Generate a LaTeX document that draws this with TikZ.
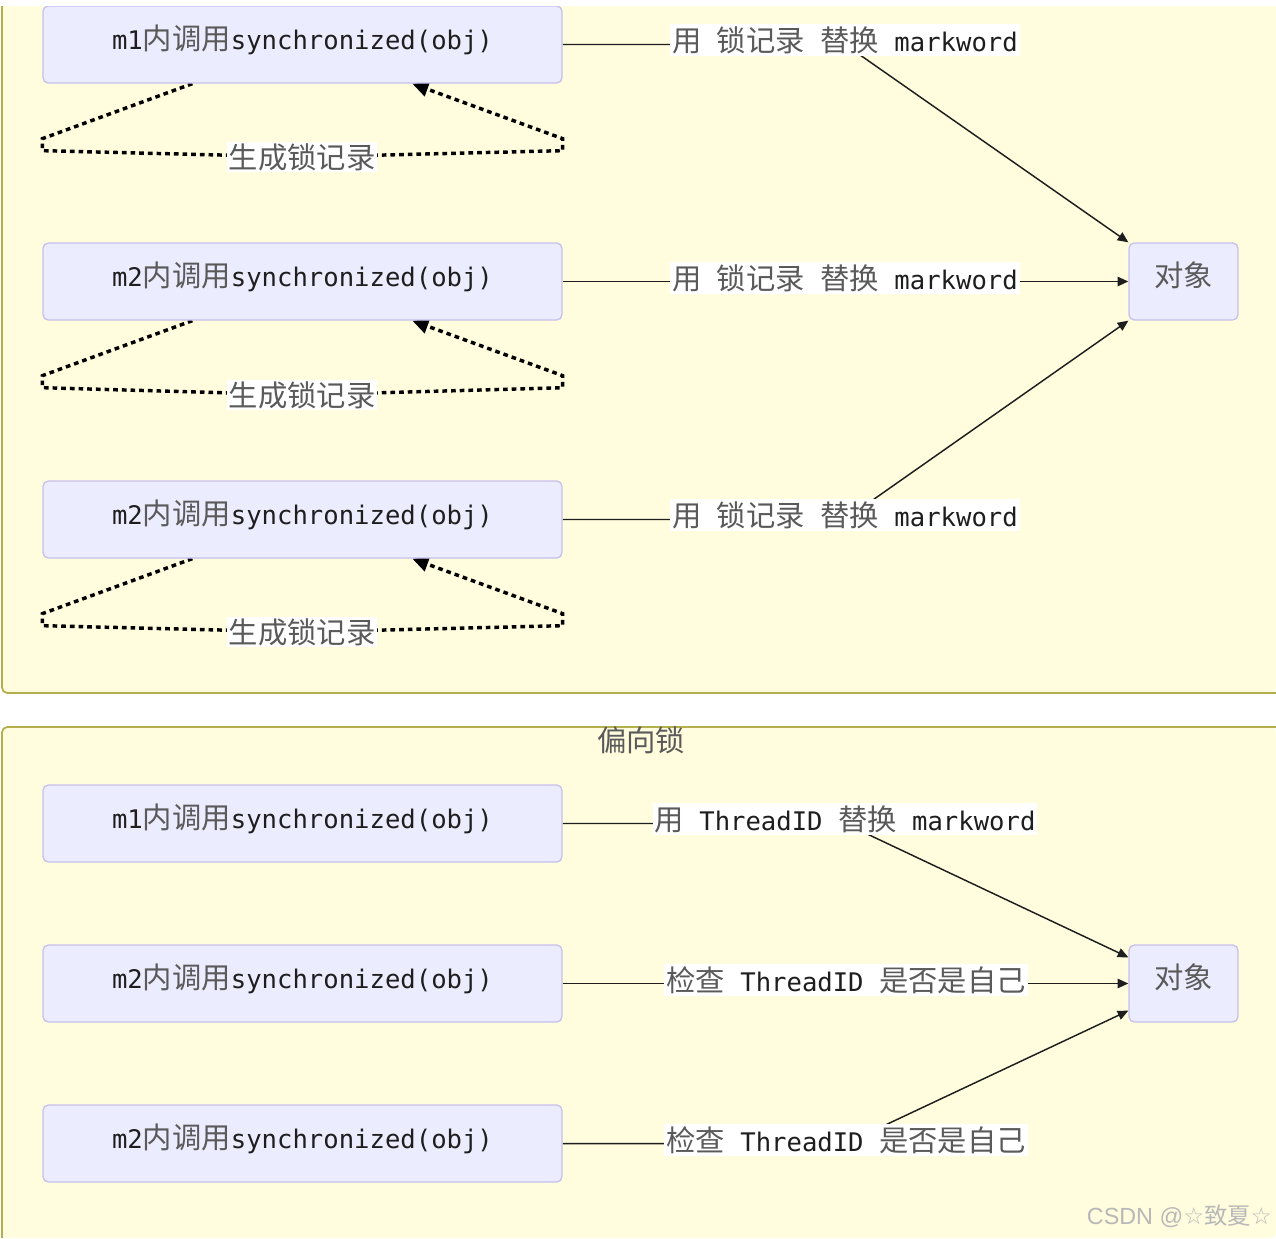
\documentclass[tikz,border=0pt]{standalone}
\usepackage{fontspec}
\newfontfamily\cjkf{Noto Sans CJK SC}
\newfontfamily\monof{DejaVu Sans Mono}
\newfontfamily\dejaf{DejaVu Sans}
\newfontfamily\arialf{Liberation Sans}
\usetikzlibrary{arrows.meta,calc}
\definecolor{clfill}{HTML}{FFFDDE}
\definecolor{clline}{HTML}{B4AE4C}
\definecolor{bxfill}{HTML}{ECECFF}
\definecolor{bxline}{HTML}{C6C0EC}
\definecolor{ink}{HTML}{1E1E1E}
\definecolor{zhink}{HTML}{5A5A5A}
\newcommand\zh[1]{{\cjkf\fontsize{22pt}{26pt}\selectfont\color{zhink}#1}}
\pgfdeclarelayer{bg}\pgfdeclarelayer{edges}\pgfdeclarelayer{cover}
\pgfsetlayers{bg,edges,main,cover}
\begin{document}
\begin{tikzpicture}[x=0.75pt,y=-0.75pt,
  every node/.style={font=\monof\fontsize{19.2pt}{22pt}\selectfont, text=ink},
  box/.style={draw=bxline, fill=bxfill, line width=1pt, rounded corners=4pt,
    minimum width=389.25pt, minimum height=57.75pt, inner sep=0pt,
    text height=17pt, text depth=9pt},
  objbox/.style={box, minimum width=81.75pt},
  elabel/.style={fill=white, inner sep=1.5pt},
  loopl/.style={fill=white, inner sep=1pt},
  edge/.style={draw=ink, line width=1.1pt, -{Triangle[length=8pt,width=7pt]}},
  selfloop/.style={draw=black, line width=2.6pt, dash pattern=on 3.5pt off 3pt,
    -{Triangle[length=12pt,width=11pt]}},
  clborder/.style={draw=clline, line width=1.3pt, rounded corners=4pt}]

\useasboundingbox (0,0) rectangle (1276,1238);

% clusters
\begin{pgfonlayer}{bg}
  \fill[white] (0,0) rectangle (1276,1238);
  \fill[clfill, rounded corners=4pt] (1276,0) -- (2,0) -- (2,693) -- (1276,693) -- cycle;
  \draw[clborder] (2,0) -- (2,693) -- (1276,693);
  \fill[clfill, rounded corners=4pt] (1276,1238) -- (2,1238) -- (2,727) -- (1276,727) -- cycle;
  \draw[clborder] (2,1238) -- (2,727) -- (1276,727);
\end{pgfonlayer}

% ---------- top cluster ----------
\node[box] (m1a) at (302.5,44.5) {m1\zh{内调用}synchronized(obj)};
\node[box] (m2a) at (302.5,281.5) {m2\zh{内调用}synchronized(obj)};
\node[box] (m3a) at (302.5,519.5) {m2\zh{内调用}synchronized(obj)};
\node[objbox] (o1) at (1183.5,281.5) {\zh{对象}};

\node[elabel] (l1a) at (845,40) {\zh{用} \zh{锁记录} \zh{替换} markword};
\node[elabel] (l2a) at (845,278) {\zh{用} \zh{锁记录} \zh{替换} markword};
\node[elabel] (l3a) at (845,515) {\zh{用} \zh{锁记录} \zh{替换} markword};

\node[loopl] (g1a) at (302,157) {\zh{生成锁记录}};
\node[loopl] (g2a) at (302,395) {\zh{生成锁记录}};
\node[loopl] (g3a) at (302,632) {\zh{生成锁记录}};

% ---------- bottom cluster ----------
\node (ttl) at (641,740) {\zh{偏向锁}};
\node[box] (m1b) at (302.5,823.5) {m1\zh{内调用}synchronized(obj)};
\node[box] (m2b) at (302.5,983.5) {m2\zh{内调用}synchronized(obj)};
\node[box] (m3b) at (302.5,1143.5) {m2\zh{内调用}synchronized(obj)};
\node[objbox] (o2) at (1183.5,983.5) {\zh{对象}};

\node[elabel] (l1b) at (845,819) {\zh{用} ThreadID \zh{替换} markword};
\node[elabel] (l2b) at (846,980) {\zh{检查} ThreadID \zh{是否是自己}};
\node[elabel] (l3b) at (846,1140) {\zh{检查} ThreadID \zh{是否是自己}};

% watermark
\node[anchor=east, text=black!28, inner sep=0pt] (wm) at (1272,1216)
  {\arialf\fontsize{17.5pt}{20pt}\selectfont CSDN @{\dejaf ☆}{\cjkf 致夏}{\dejaf ☆}};

% ---------- edges ----------
\begin{pgfonlayer}{edges}
  \draw[edge] (m1a.east) -- (m1a.east -| l1a.center) -- (o1.north west);
  \draw[edge] (m2a.east) -- (o1.west);
  \draw[edge] (m3a.east) -- (m3a.east -| l3a.center) -- (o1.south west);

  \draw[edge] (m1b.east) -- (m1b.east -| l1b.center) -- ($(o2.north west)+(0,13)$);
  \draw[edge] (m2b.east) -- (o2.west);
  \draw[edge] (m3b.east) -- (m3b.east -| l3b.center) -- ($(o2.south west)+(0,-12)$);

  \draw[selfloop] ($(m1a.south west)+(150,0)$) -- ($(m1a.south west)+(0,55)$)
    -- ($(m1a.south west)+(0,67)$) -- (g1a.center) -- ($(m1a.south east)+(0,67)$)
    -- ($(m1a.south east)+(0,55)$) -- ($(m1a.south west)+(370,0)$);
  \draw[selfloop] ($(m2a.south west)+(150,0)$) -- ($(m2a.south west)+(0,55)$)
    -- ($(m2a.south west)+(0,67)$) -- (g2a.center) -- ($(m2a.south east)+(0,67)$)
    -- ($(m2a.south east)+(0,55)$) -- ($(m2a.south west)+(370,0)$);
  \draw[selfloop] ($(m3a.south west)+(150,0)$) -- ($(m3a.south west)+(0,55)$)
    -- ($(m3a.south west)+(0,67)$) -- (g3a.center) -- ($(m3a.south east)+(0,67)$)
    -- ($(m3a.south east)+(0,55)$) -- ($(m3a.south west)+(370,0)$);
\end{pgfonlayer}

\begin{pgfonlayer}{cover}
  \fill[white] (0,0) rectangle (1276,6.5);
\end{pgfonlayer}
\end{tikzpicture}
\end{document}
